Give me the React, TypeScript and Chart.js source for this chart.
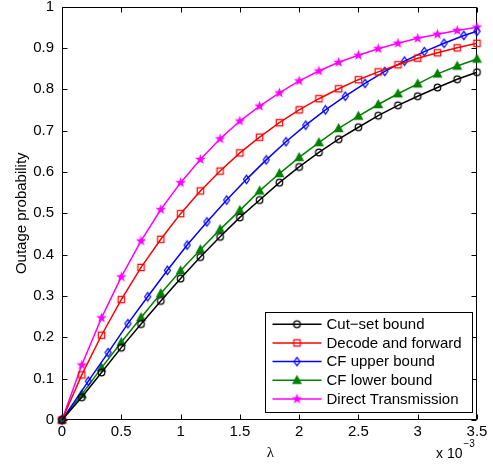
import React, { useEffect, useRef } from "react";
import { Chart, registerables } from "chart.js";

Chart.register(...registerables);

// lambda in units of 1e-3
const lambdaGrid = [0, 0.1667, 0.3333, 0.5, 0.6667, 0.8333, 1.0, 1.1667, 1.3333, 1.5, 1.6667, 1.8333, 2.0, 2.1667, 2.3333, 2.5, 2.6667, 2.8333, 3.0, 3.1667, 3.3333, 3.5];
const lambdaCfUpper = [0, 0.2222, 0.3889, 0.5556, 0.7222, 0.8889, 1.0556, 1.2222, 1.3889, 1.5556, 1.7222, 1.8889, 2.0556, 2.2222, 2.3889, 2.5556, 2.7222, 2.8889, 3.0556, 3.2222, 3.3889, 3.5];

const cutSet = [0, 0.055, 0.115, 0.175, 0.232, 0.288, 0.342, 0.394, 0.443, 0.49, 0.532, 0.574, 0.612, 0.647, 0.679, 0.708, 0.736, 0.761, 0.783, 0.804, 0.824, 0.841];
const decodeForward = [0, 0.109, 0.205, 0.291, 0.369, 0.437, 0.499, 0.554, 0.602, 0.646, 0.684, 0.719, 0.75, 0.777, 0.801, 0.823, 0.842, 0.859, 0.875, 0.888, 0.9, 0.911];
const cfUpper = [0, 0.094, 0.163, 0.233, 0.298, 0.362, 0.423, 0.479, 0.532, 0.582, 0.629, 0.673, 0.713, 0.75, 0.783, 0.814, 0.843, 0.868, 0.891, 0.911, 0.93, 0.94];
const cfLower = [0, 0.062, 0.126, 0.188, 0.248, 0.306, 0.361, 0.412, 0.461, 0.507, 0.554, 0.596, 0.635, 0.671, 0.705, 0.735, 0.763, 0.789, 0.813, 0.837, 0.856, 0.873];
const direct = [0, 0.133, 0.247, 0.346, 0.433, 0.509, 0.574, 0.63, 0.68, 0.723, 0.759, 0.791, 0.82, 0.844, 0.865, 0.882, 0.898, 0.911, 0.923, 0.933, 0.942, 0.95];

const seriesLabels = ["Cut\u2212set bound", "Decode and forward", "CF upper bound", "CF lower bound", "Direct Transmission"];
const xTickValues = [0, 0.5, 1, 1.5, 2, 2.5, 3, 3.5];
const yTickValues = [0, 0.1, 0.2, 0.3, 0.4, 0.5, 0.6, 0.7, 0.8, 0.9, 1];
const xTitle = "\u03bb";
const yTitle = "Outage probability";
const xExponentBase = "x 10";
const xExponent = "\u22123";

const FONT = "'Liberation Sans', Arial, Helvetica, sans-serif";

function markerCanvas(kind: string, color: string): HTMLCanvasElement {
  const s = 15;
  const c = document.createElement("canvas");
  c.width = s;
  c.height = s;
  const g = c.getContext("2d")!;
  g.translate(s / 2, s / 2);
  g.strokeStyle = color;
  g.fillStyle = color;
  g.lineWidth = 1.2;
  g.beginPath();
  if (kind === "circle") {
    g.arc(0, 0, 3.3, 0, Math.PI * 2);
    g.stroke();
  } else if (kind === "square") {
    g.rect(-3.2, -3.2, 6.4, 6.4);
    g.stroke();
  } else if (kind === "diamond") {
    g.moveTo(0, -4.2);
    g.lineTo(3, 0);
    g.lineTo(0, 4.2);
    g.lineTo(-3, 0);
    g.closePath();
    g.stroke();
  } else if (kind === "triangle") {
    g.moveTo(0, -4.2);
    g.lineTo(4, 3.2);
    g.lineTo(-4, 3.2);
    g.closePath();
    g.fill();
    g.stroke();
  } else if (kind === "star") {
    const R = 5.6, r = 2.3;
    for (let i = 0; i < 10; i++) {
      const rad = i % 2 === 0 ? R : r;
      const ang = -Math.PI / 2 + (i * Math.PI) / 5;
      const px = rad * Math.cos(ang), py = rad * Math.sin(ang);
      if (i === 0) g.moveTo(px, py); else g.lineTo(px, py);
    }
    g.closePath();
    g.fill();
  }
  return c;
}

export default function App() {
  const ref = useRef<HTMLCanvasElement>(null);

  useEffect(() => {
    const canvas = ref.current!;
    const specs = [
      { xs: lambdaGrid, ys: cutSet, color: "#000000", marker: "circle" },
      { xs: lambdaGrid, ys: decodeForward, color: "#ff0000", marker: "square" },
      { xs: lambdaCfUpper, ys: cfUpper, color: "#0000ff", marker: "diamond" },
      { xs: lambdaGrid, ys: cfLower, color: "#008000", marker: "triangle" },
      { xs: lambdaGrid, ys: direct, color: "#ff00ff", marker: "star" },
    ];
    const markers = specs.map((s) => markerCanvas(s.marker, s.color));

    const framePlugin = {
      id: "matlabFrame",
      beforeDatasetsDraw(chart: any) {
        const { ctx, chartArea: a, scales } = chart;
        ctx.save();
        ctx.strokeStyle = "#000";
        ctx.lineWidth = 1;
        const L = Math.round(a.left) + 0.5, R = Math.round(a.right) - 0.5;
        const T = Math.round(a.top) + 0.5, B = Math.round(a.bottom) - 0.5;
        ctx.beginPath();
        ctx.rect(L, T, R - L, B - T);
        const tl = 5;
        xTickValues.forEach((v) => {
          const px = Math.round(scales.x.getPixelForValue(v)) + 0.5;
          ctx.moveTo(px, B); ctx.lineTo(px, B - tl);
          ctx.moveTo(px, T); ctx.lineTo(px, T + tl);
        });
        yTickValues.forEach((v) => {
          const py = Math.round(scales.y.getPixelForValue(v)) + 0.5;
          ctx.moveTo(L, py); ctx.lineTo(L + tl, py);
          ctx.moveTo(R, py); ctx.lineTo(R - tl, py);
        });
        ctx.stroke();
        ctx.restore();
      },
      afterDraw(chart: any) {
        const { ctx, chartArea: a } = chart;
        ctx.save();
        // axis titles
        ctx.fillStyle = "#000";
        ctx.textAlign = "center";
        ctx.textBaseline = "middle";
        ctx.font = "15px 'Liberation Serif', 'DejaVu Serif', serif";
        ctx.fillText(xTitle, (a.left + a.right) / 2 + 1, a.bottom + 33);
        ctx.save();
        ctx.translate(22, (a.top + a.bottom) / 2);
        ctx.rotate(-Math.PI / 2);
        ctx.font = "15px " + FONT;
        ctx.fillText(yTitle, 0, 0);
        ctx.restore();
        // exponent
        ctx.textAlign = "left";
        ctx.textBaseline = "alphabetic";
        ctx.font = "14px " + FONT;
        const bx = a.right - 41;
        ctx.fillText(xExponentBase, bx, a.bottom + 38);
        const w = ctx.measureText(xExponentBase).width;
        ctx.font = "10px " + FONT;
        ctx.fillText(xExponent, bx + w + 1, a.bottom + 27);

        // legend
        const right = Math.round(a.right) - 4.5;
        const bottom = Math.round(a.bottom) - 7.5;
        const left = right - 207;
        const top = bottom - 100;
        ctx.fillStyle = "#fff";
        ctx.fillRect(left, top, right - left, bottom - top);
        ctx.strokeStyle = "#000";
        ctx.lineWidth = 1;
        ctx.strokeRect(left, top, right - left, bottom - top);
        ctx.font = "15px " + FONT;
        ctx.textBaseline = "middle";
        ctx.textAlign = "left";
        specs.forEach((s, i) => {
          const y = top + 11.7 + i * 18.7;
          ctx.strokeStyle = s.color;
          ctx.lineWidth = 1.5;
          ctx.beginPath();
          ctx.moveTo(left + 7, y);
          ctx.lineTo(left + 56, y);
          ctx.stroke();
          const m = markers[i];
          ctx.drawImage(m, left + 31.5 - m.width / 2, y - m.height / 2);
          ctx.fillStyle = "#000";
          ctx.fillText(seriesLabels[i], left + 61, y + 0.5);
        });
        ctx.restore();
      },
    };

    const chart = new Chart(canvas, {
      type: "line",
      data: {
        datasets: specs.map((s, i) => ({
          label: seriesLabels[i],
          data: s.xs.map((x, j) => ({ x, y: s.ys[j] })),
          borderColor: s.color,
          backgroundColor: s.color,
          borderWidth: 1.5,
          pointStyle: markers[i] as any,
          pointRadius: 5,
          pointHoverRadius: 5,
          tension: 0,
          fill: false,
          clip: false as any,
        })),
      },
      options: {
        responsive: false,
        devicePixelRatio: 1,
        animation: false,
        events: [],
        layout: { padding: { left: 0, top: 6, right: 16, bottom: 0 } },
        plugins: { legend: { display: false }, tooltip: { enabled: false } },
        scales: {
          x: {
            type: "linear",
            min: 0,
            max: 3.5,
            grid: { display: false, drawTicks: false },
            border: { display: false },
            afterBuildTicks: (s: any) => {
              s.ticks = xTickValues.map((v) => ({ value: v }));
            },
            afterFit: (s: any) => {
              s.height = 50;
              s.paddingLeft = 0;
              s.paddingRight = 0;
            },
            ticks: {
              color: "#000",
              font: { family: FONT, size: 15 },
              padding: 3,
              maxRotation: 0,
              autoSkip: false,
              callback: (v: any) => String(Number(v)),
            },
          },
          y: {
            type: "linear",
            min: 0,
            max: 1,
            grid: { display: false, drawTicks: false },
            border: { display: false },
            afterBuildTicks: (s: any) => {
              s.ticks = yTickValues.map((v) => ({ value: v }));
            },
            afterFit: (s: any) => {
              s.width = 62;
              s.paddingTop = 0;
              s.paddingBottom = 0;
            },
            ticks: {
              color: "#000",
              font: { family: FONT, size: 15 },
              padding: 8,
              autoSkip: false,
              callback: (v: any) => String(Math.round(Number(v) * 10) / 10),
            },
          },
        },
      },
      plugins: [framePlugin],
    } as any);

    return () => chart.destroy();
  }, []);

  return (
    <div style={{ position: "fixed", left: 0, top: 0, width: 493, height: 470, background: "#fff" }}>
      <canvas ref={ref} width={493} height={470} style={{ display: "block", width: 493, height: 470 }} />
    </div>
  );
}
